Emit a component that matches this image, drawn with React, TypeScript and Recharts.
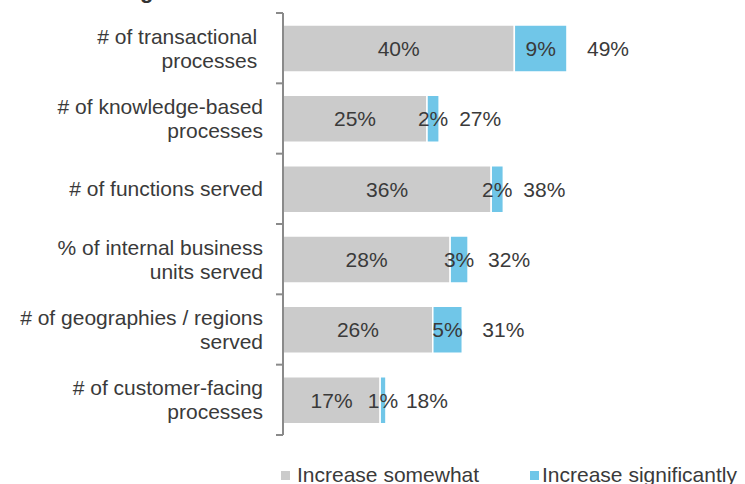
import React from 'react';
import { BarChart, Bar, XAxis, YAxis, LabelList } from 'recharts';

const categories = [
  '# of transactional\u00a0\nprocesses\u00a0',
  '# of knowledge-based\nprocesses',
  '# of functions served',
  '% of internal business\nunits served',
  '# of geographies / regions\nserved',
  '# of customer-facing\nprocesses',
];
const somewhatValues = [40, 24.9, 36.0, 28.9, 25.9, 16.8];
const significantlyValues = [9.1, 2.1, 2.1, 3.1, 5.1, 1.0];
const somewhatLabels = ['40%', '25%', '36%', '28%', '26%', '17%'];
const significantlyLabels = ['9%', '2%', '2%', '3%', '5%', '1%'];
const totalLabels = ['49%', '27%', '38%', '32%', '31%', '18%'];
const seriesNames = ['Increase somewhat', 'Increase significantly'];
const seriesColors = ['#cbcbcb', '#70c6e8'];

const data = categories.map((name, i) => ({
  name,
  somewhat: somewhatValues[i],
  significantly: significantlyValues[i],
  somewhatLabel: somewhatLabels[i],
  significantlyLabel: significantlyLabels[i],
  totalLabel: totalLabels[i],
}));

const FONT = '"Liberation Sans", Arial, Helvetica, sans-serif';
const TEXT_COLOR = '#3a3a3a';
const AXIS_COLOR = '#8a8a8a';
const TICK_SIZE = 7;
const TICK_MARGIN = 13;
const LINE_HEIGHT = 24;

function CategoryTick(props: any) {
  const { x, y, payload, index, visibleTicksCount, height } = props;
  const axisX = x + TICK_SIZE + TICK_MARGIN;
  const half =
    payload && typeof payload.offset === 'number' && payload.offset > 0
      ? payload.offset
      : height / visibleTicksCount / 2;
  const lines = String(payload.value).split('\n');
  const n = lines.length;
  return (
    <g>
      <line x1={axisX - TICK_SIZE} x2={axisX} y1={y - half} y2={y - half} stroke={AXIS_COLOR} strokeWidth={2} />
      {index === visibleTicksCount - 1 && (
        <line x1={axisX - TICK_SIZE} x2={axisX} y1={y + half} y2={y + half} stroke={AXIS_COLOR} strokeWidth={2} />
      )}
      <text textAnchor="end" fill={TEXT_COLOR} fontSize={21} fontFamily={FONT} style={{ whiteSpace: 'pre' }}>
        {lines.map((l, i) => (
          <tspan key={i} x={x} y={y + (i - (n - 1) / 2) * LINE_HEIGHT + 7.5}>
            {l}
          </tspan>
        ))}
      </text>
    </g>
  );
}

const labelStyle = { fill: TEXT_COLOR, fontSize: 21, fontFamily: FONT };

export default function App() {
  return (
    <div style={{ position: 'absolute', left: 0, top: 0, width: 745, height: 484, background: '#fff', fontFamily: FONT }}>
      <BarChart
        width={745}
        height={484}
        data={data}
        layout="vertical"
        margin={{ top: 13, right: 115, bottom: 49, left: 0 }}
      >
        <XAxis type="number" hide domain={[0, 60]} />
        <YAxis
          type="category"
          dataKey="name"
          width={283}
          interval={0}
          axisLine={{ stroke: AXIS_COLOR, strokeWidth: 2 }}
          tickLine={false}
          tickSize={TICK_SIZE}
          tickMargin={TICK_MARGIN}
          tick={<CategoryTick />}
        />
        <Bar dataKey="somewhat" stackId="a" fill={seriesColors[0]} stroke="#fff" strokeWidth={1.5} barSize={47} isAnimationActive={false}>
          <LabelList dataKey="somewhatLabel" position="center" style={labelStyle} {...labelStyle} />
        </Bar>
        <Bar dataKey="significantly" stackId="a" fill={seriesColors[1]} stroke="#fff" strokeWidth={1.5} barSize={47} isAnimationActive={false}>
          <LabelList dataKey="significantlyLabel" position="center" {...labelStyle} />
          <LabelList dataKey="totalLabel" position="right" offset={20} {...labelStyle} />
        </Bar>
      </BarChart>
      <svg width={745} height={484} style={{ position: 'absolute', left: 0, top: 0, pointerEvents: 'none' }}>
        <text x={140} y={-2} fontSize={22} fontWeight="bold" fontFamily={FONT} fill="#333">g</text>
        <rect x={281} y={471} width={9} height={9} fill={seriesColors[0]} />
        <text x={297} y={482} fontSize={21} fontFamily={FONT} fill={TEXT_COLOR}>{seriesNames[0]}</text>
        <rect x={530} y={471} width={9} height={9} fill={seriesColors[1]} />
        <text x={542} y={482} fontSize={21} fontFamily={FONT} fill={TEXT_COLOR}>{seriesNames[1]}</text>
      </svg>
    </div>
  );
}
